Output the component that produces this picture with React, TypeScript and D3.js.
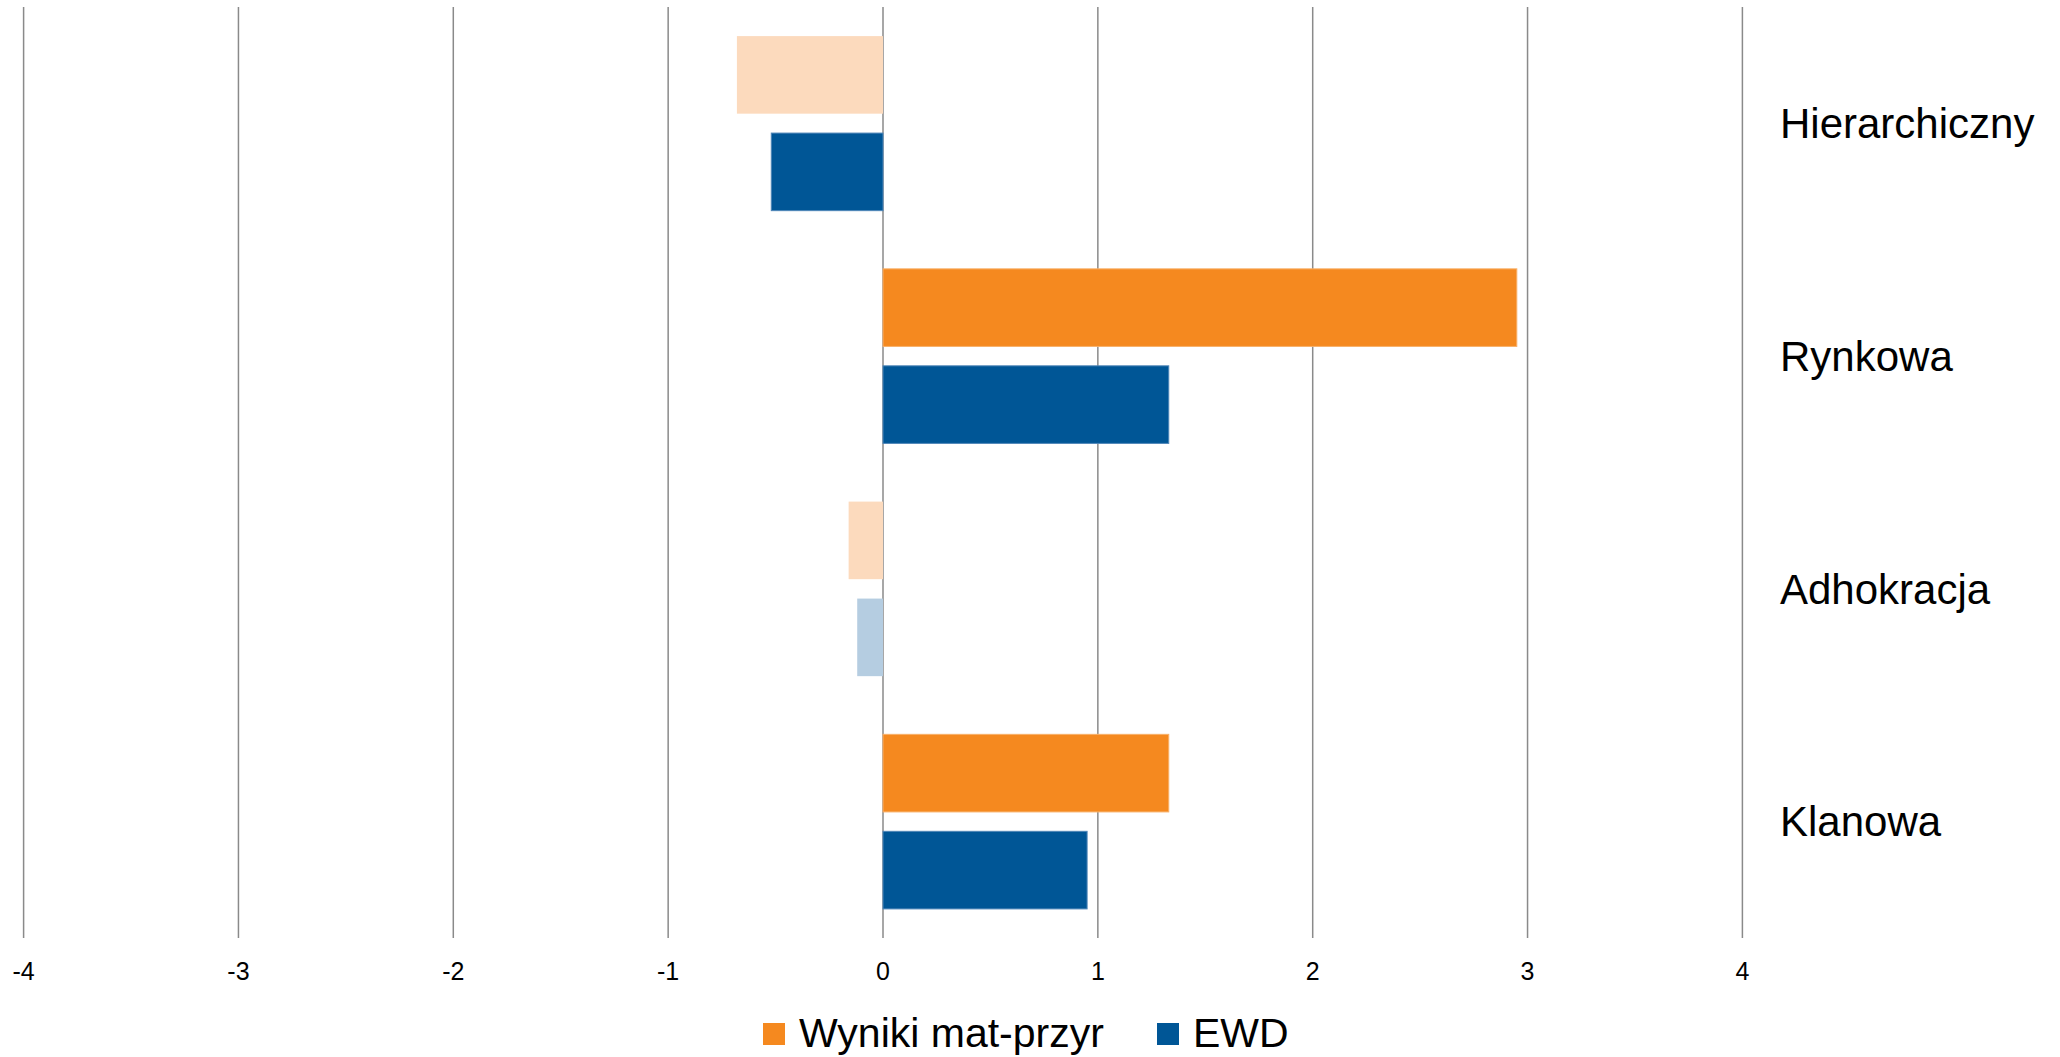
import * as d3 from "d3";

const categories = ["Hierarchiczny", "Rynkowa", "Adhokracja", "Klanowa"];
const seriesNames = ["Wyniki mat-przyr", "EWD"];
const wynikiValues = [-0.68, 2.95, -0.16, 1.33];
const ewdValues = [-0.52, 1.33, -0.12, 0.95];
// faded bars = not significant
const wynikiSignificant = [false, true, false, true];
const ewdSignificant = [true, true, false, true];
const tickValues = [-4, -3, -2, -1, 0, 1, 2, 3, 4];

const COLORS = {
  "Wyniki mat-przyr": { solid: "#F5891F", faded: "#FCDABD", edge: "#F8B06A" },
  EWD: { solid: "#005696", faded: "#B5CDE1", edge: "#4F86B8" },
};

const WIDTH = 2060;
const HEIGHT = 1057;
const PLOT = { top: 7, bottom: 938, left: 23.6, right: 1742.4 };
const FONT = "'Liberation Sans', Arial, Helvetica, sans-serif";

const App = () => {
  const xScale = d3.scaleLinear().domain([-4, 4]).range([PLOT.left, PLOT.right]);
  const yScale = d3.scaleBand().domain(categories).range([PLOT.top, PLOT.bottom]).padding(0);
  const inner = d3
    .scaleBand()
    .domain(seriesNames)
    .range([0, yScale.bandwidth()])
    .paddingInner(0.2)
    .paddingOuter(0.3);

  const rows = categories.map((c, i) => ({
    category: c,
    bars: [
      { series: "Wyniki mat-przyr", value: wynikiValues[i], sig: wynikiSignificant[i] },
      { series: "EWD", value: ewdValues[i], sig: ewdSignificant[i] },
    ],
  }));

  const legendItems = [
    { name: "Wyniki mat-przyr", sx: 763, tx: 799 },
    { name: "EWD", sx: 1157, tx: 1193 },
  ];

  return (
    <svg
      width={WIDTH}
      height={HEIGHT}
      style={{ position: "absolute", left: 0, top: 0, background: "#fff" }}
      fontFamily={FONT}
    >
      {tickValues.map((t) => (
        <g key={t}>
          <line
            x1={xScale(t)}
            x2={xScale(t)}
            y1={PLOT.top}
            y2={PLOT.bottom}
            stroke="#8a8a8a"
            strokeWidth={1.5}
          />
          <text x={xScale(t)} y={980} textAnchor="middle" fontSize={25} fill="#000">
            {t}
          </text>
        </g>
      ))}

      {rows.map((r) => (
        <g key={r.category} transform={`translate(0,${yScale(r.category)})`}>
          {r.bars.map((b) => {
            const col = COLORS[b.series];
            const x0 = xScale(Math.min(0, b.value));
            const w = Math.abs(xScale(b.value) - xScale(0));
            return (
              <rect
                key={b.series}
                x={x0}
                y={inner(b.series)}
                width={w}
                height={inner.bandwidth()}
                fill={b.sig ? col.solid : col.faded}
                stroke={b.sig ? col.edge : "none"}
                strokeWidth={1}
              />
            );
          })}
          <text
            x={1780}
            y={yScale.bandwidth() / 2}
            dy="0.35em"
            fontSize={42}
            fill="#000"
          >
            {r.category}
          </text>
        </g>
      ))}

      {legendItems.map((l) => (
        <g key={l.name}>
          <rect x={l.sx} y={1023} width={22} height={22} fill={COLORS[l.name].solid} />
          <text x={l.tx} y={1047} fontSize={41} fill="#000">
            {l.name}
          </text>
        </g>
      ))}
    </svg>
  );
};

export default App;
